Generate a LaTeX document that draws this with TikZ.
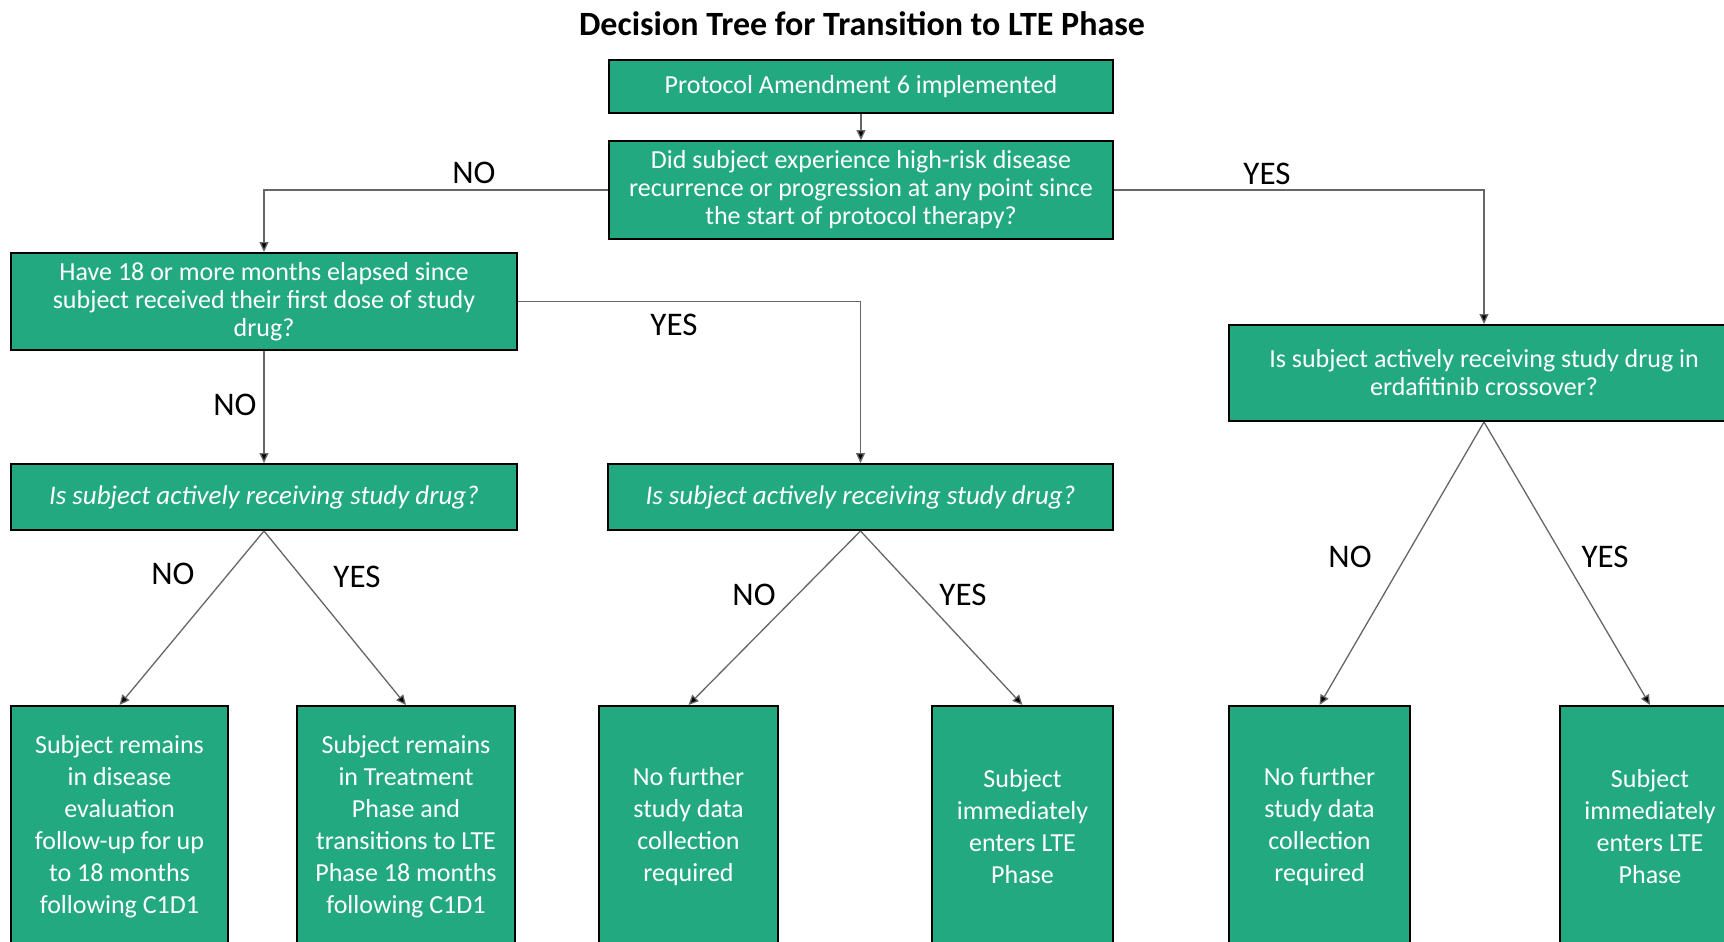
\documentclass[tikz,border=0pt]{standalone}
\usepackage{fontspec}
\setmainfont{Carlito}
\usetikzlibrary{arrows.meta}
\definecolor{boxgreen}{RGB}{34,169,127}
\begin{document}
\begin{tikzpicture}[x=0.5pt,y=-0.5pt,
  box/.style={draw=black, line width=1pt, fill=boxgreen, text=white, align=center, inner sep=0pt, anchor=center, font=\fontsize{13}{14}\selectfont},
  leaf/.style={box, minimum height=121pt, font=\fontsize{13}{16}\selectfont},
  conn/.style={draw=black!60, line width=0.65pt, -{Triangle[length=5pt,width=4.5pt,fill=black]}},
  lbl/.style={font=\fontsize{16.5}{18}\selectfont, text=black, inner sep=0pt}]
\useasboundingbox (0,0) rectangle (1724,942);
\fill[white] (0,0) rectangle (1724,942);
\node[font=\bfseries\fontsize{17}{20}\selectfont, inner sep=0pt] (title) at (862,24) {Decision Tree for Transition to LTE Phase};
\node[box, minimum width=252pt, minimum height=26.5pt] (b1) at (861,86.5) {Protocol Amendment 6 implemented};
\node[box, minimum width=252pt, minimum height=49pt] (b2) at (861,190) {Did subject experience high-risk disease\\recurrence or progression at any point since\\the start of protocol therapy?};
\node[box, minimum width=253pt, minimum height=48.5pt] (b3) at (264,301.5) {Have 18 or more months elapsed since\\subject received their first dose of study\\drug?};
\node[box, minimum width=255pt, minimum height=48pt] (bR) at (1484,373) {Is subject actively receiving study drug in\\erdafitinib crossover?};
\node[box, minimum width=253pt, minimum height=33pt, font=\fontsize{13.5}{15}\selectfont\itshape] (b4) at (264,497) {Is subject actively receiving study drug?};
\node[box, minimum width=252.5pt, minimum height=33pt, font=\fontsize{13.5}{15}\selectfont\itshape] (b5) at (860.5,497) {Is subject actively receiving study drug?};
\node[leaf, minimum width=108.5pt] (b6) at (119.5,827) {Subject remains\\in disease\\evaluation\\follow-up for up\\to 18 months\\following C1D1};
\node[leaf, minimum width=109pt] (b7) at (406,827) {Subject remains\\in Treatment\\Phase and\\transitions to LTE\\Phase 18 months\\following C1D1};
\node[leaf, minimum width=89.5pt] (b8) at (688.5,827) {No further\\study data\\collection\\required};
\node[leaf, minimum width=90.5pt] (b9) at (1022.5,827) {Subject\\immediately\\enters LTE\\Phase};
\node[leaf, minimum width=90.5pt] (b10) at (1319.5,827) {No further\\study data\\collection\\required};
\node[leaf, minimum width=90pt] (b11) at (1650,827) {Subject\\immediately\\enters LTE\\Phase};
\draw[conn] (b1) -- (b2);
\draw[conn] (b2.west) -| (b3.north);
\draw[conn] (b2.east) -| (bR.north);
\draw[conn] (b3.east) -| (b5.north);
\draw[conn] (b3.south) -- (b4.north);
\draw[conn] (b4.south) -- (b6.north);
\draw[conn] (b4.south) -- (b7.north);
\draw[conn] (b5.south) -- (b8.north);
\draw[conn] (b5.south) -- (b9.north);
\draw[conn] (bR.south) -- (b10.north);
\draw[conn] (bR.south) -- (b11.north);
\node[lbl] (l1) at (474,173) {NO};
\node[lbl] (l2) at (1267,174) {YES};
\node[lbl] (l3) at (674,325) {YES};
\node[lbl] (l4) at (235,405) {NO};
\node[lbl] (l5) at (173,574) {NO};
\node[lbl] (l6) at (357,577) {YES};
\node[lbl] (l7) at (754,595) {NO};
\node[lbl] (l8) at (963,595) {YES};
\node[lbl] (l9) at (1350,557) {NO};
\node[lbl] (l10) at (1605,557) {YES};
\end{tikzpicture}
\end{document}
